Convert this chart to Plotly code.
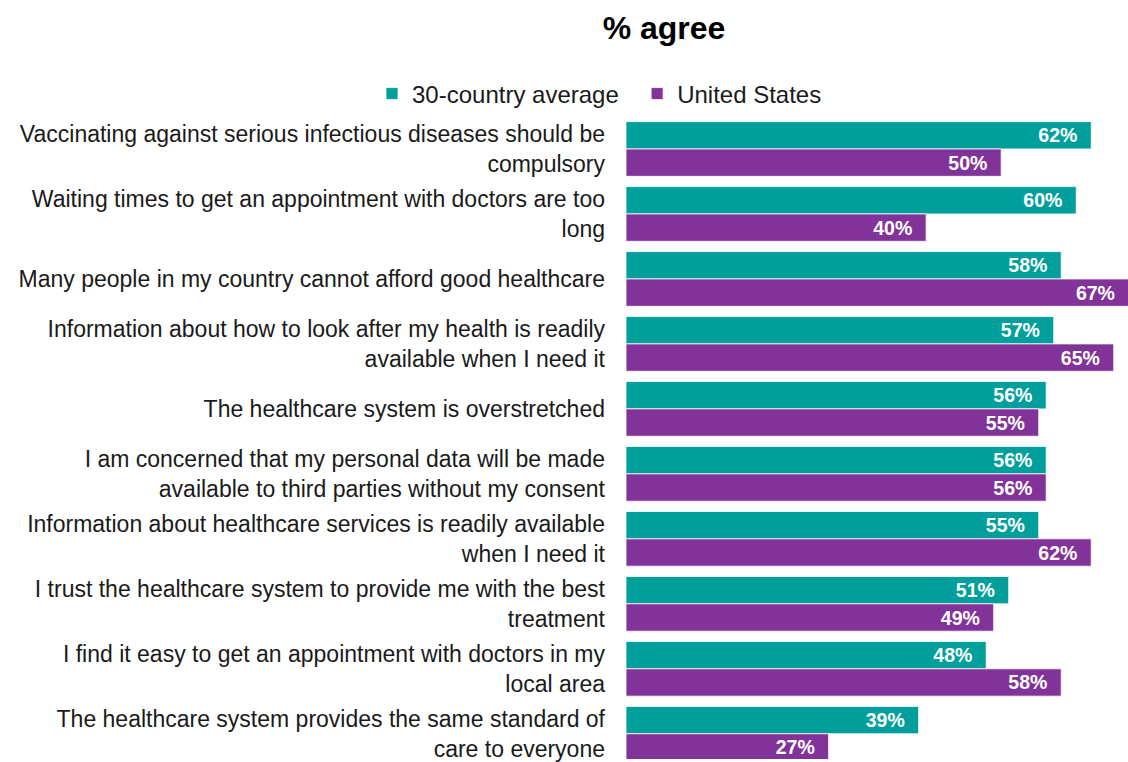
import plotly.graph_objects as go

categories = [
    "Vaccinating against serious infectious diseases should be<br>compulsory",
    "Waiting times to get an appointment with doctors are too<br>long",
    "Many people in my country cannot afford good healthcare",
    "Information about how to look after my health is readily<br>available when I need it",
    "The healthcare system is overstretched",
    "I am concerned that my personal data will be made<br>available to third parties without my consent",
    "Information about healthcare services is readily available<br>when I need it",
    "I trust the healthcare system to provide me with the best<br>treatment",
    "I find it easy to get an appointment with doctors in my<br>local area",
    "The healthcare system provides the same standard of<br>care to everyone",
]
avg_30 = [62, 60, 58, 57, 56, 56, 55, 51, 48, 39]
united_states = [50, 40, 67, 65, 55, 56, 62, 49, 58, 27]
series_names = ["30-country average\u00a0\u00a0", "United States"]
colors = ["#009F9B", "#823399"]

FONT = "Liberation Sans, Arial, sans-serif"

fig = go.Figure()
for name, vals, col in zip(series_names, [avg_30, united_states], colors):
    fig.add_trace(go.Bar(
        y=categories, x=vals, orientation="h", name=name,
        marker=dict(color=col, line=dict(color="white", width=0.8)),
        text=[f"{v}%\u00a0\u00a0" for v in vals],
        textposition="inside", insidetextanchor="end",
        textangle=0, constraintext="none",
        insidetextfont=dict(color="white", size=19.5, family=FONT, weight="bold"),
        hoverinfo="skip",
    ))

n = len(categories)
fig.update_layout(
    width=1128, height=762,
    barmode="group", bargap=0.158, bargroupgap=0,
    paper_bgcolor="white", plot_bgcolor="white",
    margin=dict(l=626, r=0, t=116, b=0, pad=0),
    title=dict(text="<b>% agree</b>", xref="container", x=664 / 1128, xanchor="center",
               yref="container", y=1 - 28 / 762, yanchor="middle",
               font=dict(family=FONT, size=32, color="black")),
    legend=dict(orientation="h", xref="container", yref="container",
                x=372 / 1128, xanchor="left", y=1 - 94 / 762, yanchor="middle",
                font=dict(family=FONT, size=24, color="#1a1a1a"),
                traceorder="normal", itemwidth=30),
    showlegend=True,
)
fig.update_xaxes(range=[0, 66.9], visible=False, showgrid=False, zeroline=False, fixedrange=True)
fig.update_yaxes(range=[n - 1 + 0.5 - (65.33 * n - 646) / 65.33, -0.5],
                 showgrid=False, zeroline=False, showline=False, ticks="",
                 ticklabelstandoff=20,
                 tickfont=dict(family=FONT, size=23, color="#1a1a1a"))

fig.write_html("out.html", config={"displayModeBar": False})

with open("out.html", "r", encoding="utf-8") as f:
    html = f.read()
html = html.replace("<body>", '<body style="margin:0;padding:0;overflow:hidden">', 1)
with open("out.html", "w", encoding="utf-8") as f:
    f.write(html)
